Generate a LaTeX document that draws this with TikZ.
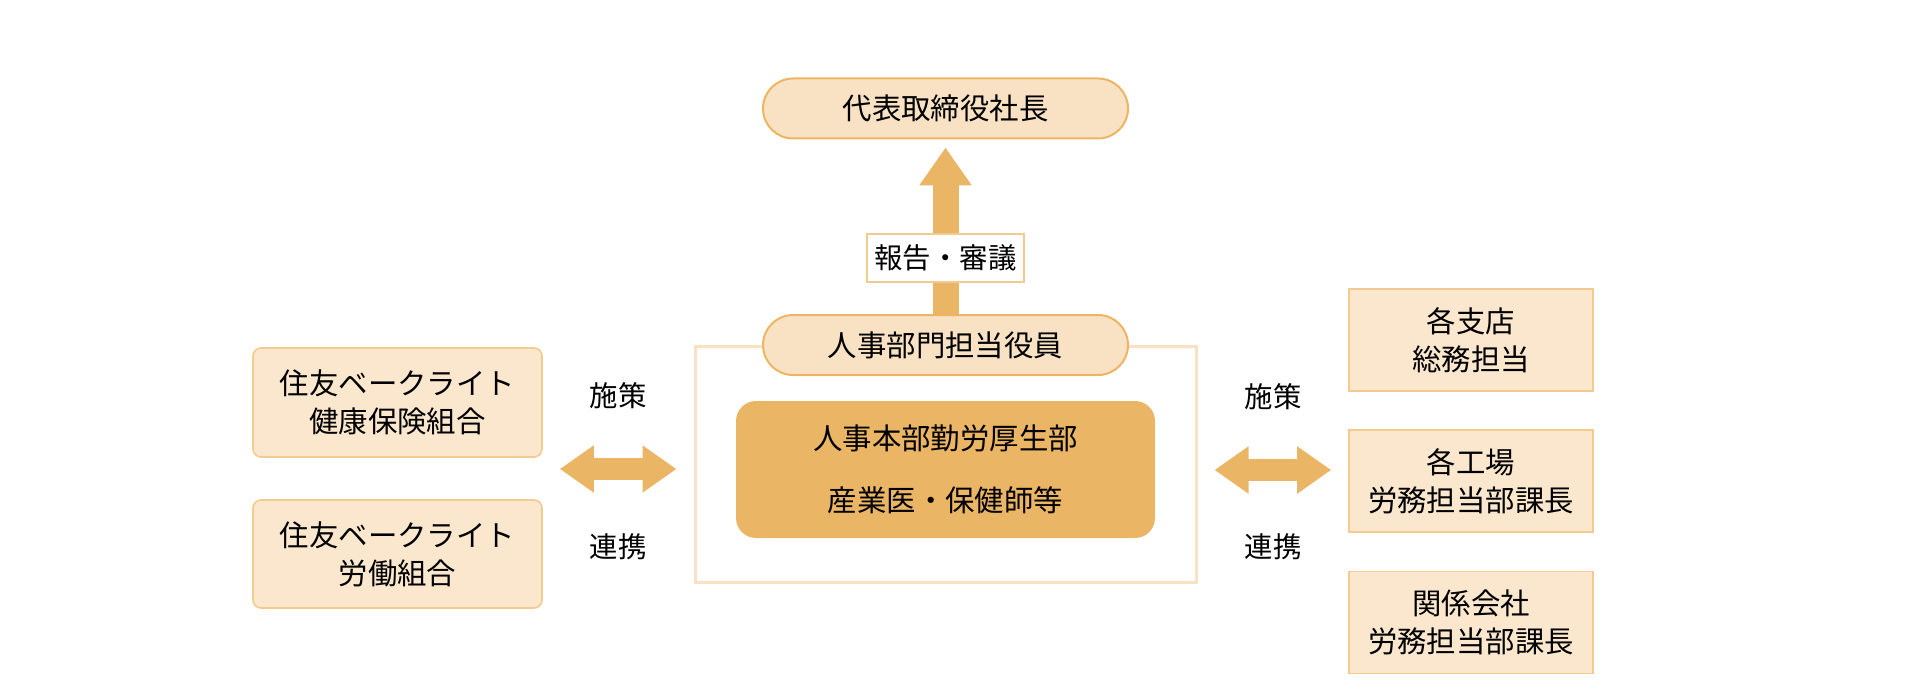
\documentclass[tikz,border=0pt]{standalone}
\usepackage{fontspec}
\setmainfont{Noto Sans CJK JP}
\usetikzlibrary{arrows.meta}
\definecolor{pillfill}{HTML}{F8E2C3}
\definecolor{pillline}{HTML}{EDB562}
\definecolor{boxfill}{HTML}{FAE7CD}
\definecolor{boxline}{HTML}{F4CB8E}
\definecolor{deepfill}{HTML}{EBB566}
\tikzset{
  pill/.style={draw=pillline, fill=pillfill, line width=1pt, rounded corners=15pt,
    minimum width=182.5pt, minimum height=30pt, font=\fontsize{14.7pt}{19pt}\selectfont},
  sidebox/.style={draw=boxline, fill=boxfill, line width=0.8pt, align=center,
    font=\fontsize{14.7pt}{19pt}\selectfont},
  tag/.style={font=\fontsize{14.2pt}{19pt}\selectfont},
  bigarrow/.style={draw=deepfill, line width=13pt, -{Triangle[length=19pt,width=25pt]}},
  dblarrow/.style={draw=deepfill, line width=11pt,
    {Triangle[length=17pt,width=22.5pt]}-{Triangle[length=17pt,width=22.5pt]},
    shorten <=8.5pt, shorten >=8.5pt}
}
\begin{document}
\begin{tikzpicture}[x=0.5pt, y=-0.5pt]
    \useasboundingbox (0, 0) rectangle (1910, 700);
    % centre group
    \node[draw=pillfill, line width=1.5pt, minimum width=250.5pt, minimum height=118pt] (outer) at (945.5, 464) {};
    \node[fill=deepfill, rounded corners=10pt, minimum width=209.5pt, minimum height=68.5pt,
      align=center, font=\fontsize{14.7pt}{31pt}\selectfont] (honbu) at (945.5, 469.5) {人事本部勤労厚生部\\産業医・保健師等};
    \node[pill] (yakuin) at (945.5, 345) {人事部門担当役員};
    \node[pill] (shacho) at (945.5, 108.5) {代表取締役社長};
    \draw[bigarrow, shorten >=4pt] (yakuin.north) -- (shacho.south)
      node[pos=0.32, draw=boxline, fill=white, line width=0.8pt, minimum width=78.5pt, minimum height=24pt, tag] (hokoku) {報告・審議};
    % left side
    \node[sidebox, rounded corners=4pt, minimum width=144.5pt, minimum height=54.5pt] (kenpo) at (397.5, 402.5) {住友ベークライト\\健康保険組合};
    \node[sidebox, rounded corners=4pt, minimum width=144.5pt, minimum height=54pt] (rokumi) at (397.5, 554) {住友ベークライト\\労働組合};
    \draw[dblarrow] ([yshift=-2.5pt]kenpo.east |- outer.west) -- ([yshift=-2.5pt]outer.west);
    \node[tag] (lsaku) at (618, 396) {施策};
    \node[tag] (lrenkei) at (618, 547) {連携};
    % right side
    \node[sidebox, minimum width=122pt, minimum height=51pt] (shiten) at (1471, 340) {各支店\\総務担当};
    \node[sidebox, minimum width=122pt, minimum height=51pt] (kojo) at (1471, 481) {各工場\\労務担当部課長};
    \node[sidebox, minimum width=122pt, minimum height=51pt] (kankei) at (1471, 622.5) {関係会社\\労務担当部課長};
    \draw[dblarrow] ([yshift=-3pt]outer.east) -- ([yshift=-3pt]kojo.west |- outer.east);
    \node[tag] (rsaku) at (1273, 397) {施策};
    \node[tag] (rrenkei) at (1273, 547) {連携};
\end{tikzpicture}
\end{document}
